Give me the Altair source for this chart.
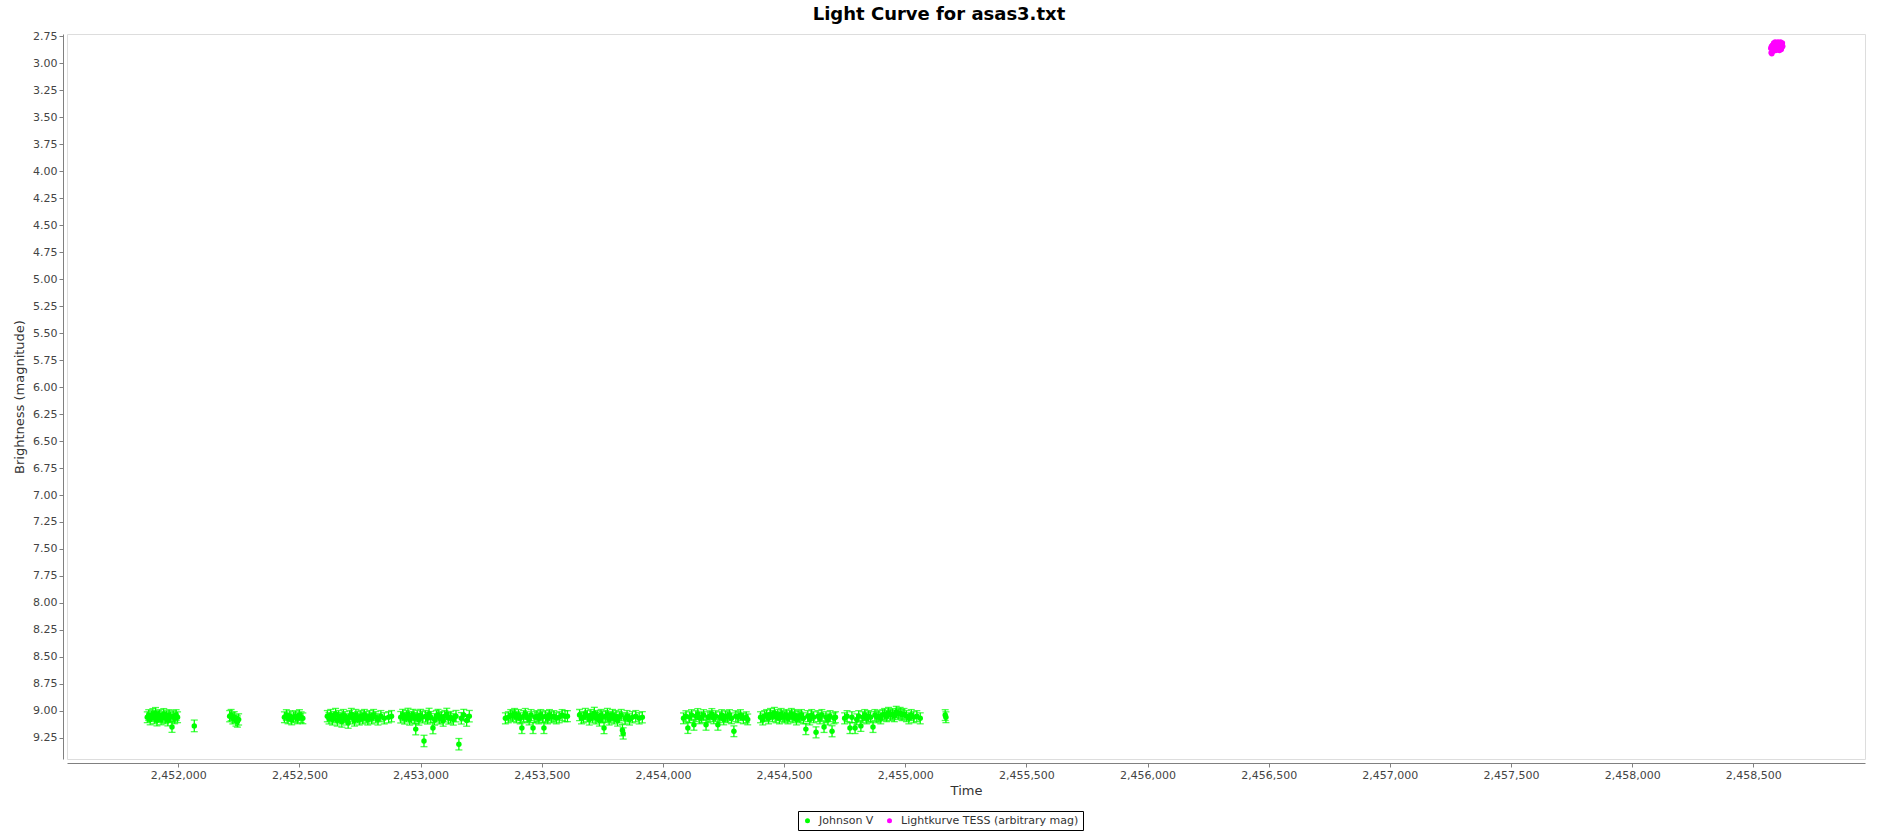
import altair as alt
import pandas as pd

# ---------------- Johnson V (ASAS-3) observations ----------------
jd_s1 = [2451872, 2451878, 2451884, 2451889, 2451895, 2451901, 2451906, 2451912, 2451918, 2451923,
         2451929, 2451934, 2451940, 2451946, 2451951, 2451957, 2451962, 2451968, 2451974, 2451979,
         2451985, 2451991, 2451997]
mag_s1 = [9.06, 9.04, 9.08, 9.05, 9.03, 9.07, 9.02, 9.09, 9.05, 9.04,
          9.08, 9.06, 9.03, 9.07, 9.05, 9.09, 9.04, 9.06, 9.15, 9.05,
          9.07, 9.04, 9.06]

jd_iso1 = [2452066]
mag_iso1 = [9.14]

jd_s2 = [2452212, 2452218, 2452225, 2452231, 2452238, 2452244, 2452249]
mag_s2 = [9.05, 9.04, 9.07, 9.06, 9.09, 9.10, 9.08]

jd_s3 = [2452438, 2452446, 2452453, 2452460, 2452468, 2452476, 2452484, 2452492, 2452500, 2452507, 2452514]
mag_s3 = [9.06, 9.04, 9.07, 9.05, 9.08, 9.06, 9.05, 9.07, 9.04, 9.06, 9.07]

jd_s4 = [2452615, 2452622, 2452629, 2452636, 2452642, 2452649, 2452656, 2452662, 2452668, 2452675,
         2452681, 2452688, 2452694, 2452701, 2452707, 2452714, 2452720, 2452727, 2452733, 2452740,
         2452747, 2452754, 2452761, 2452768, 2452775, 2452782, 2452790, 2452798, 2452806, 2452815,
         2452824, 2452836, 2452850, 2452868, 2452880]
mag_s4 = [9.05, 9.07, 9.04, 9.08, 9.06, 9.03, 9.09, 9.05, 9.07, 9.10,
          9.04, 9.06, 9.08, 9.11, 9.05, 9.03, 9.07, 9.09, 9.04, 9.06,
          9.08, 9.05, 9.07, 9.04, 9.06, 9.08, 9.05, 9.07, 9.04, 9.06,
          9.08, 9.05, 9.07, 9.06, 9.05]

jd_s5 = [2452918, 2452926, 2452934, 2452941, 2452948, 2452955, 2452962, 2452969, 2452976, 2452980,
         2452986, 2452993, 2453000, 2453007, 2453014, 2453021, 2453028, 2453035, 2453042, 2453051,
         2453058, 2453065, 2453072, 2453079, 2453086, 2453093, 2453100, 2453108, 2453116, 2453124,
         2453135, 2453146, 2453158, 2453168, 2453178, 2453190, 2453201]
mag_s5 = [9.06, 9.04, 9.07, 9.05, 9.03, 9.08, 9.06, 9.04, 9.07, 9.17,
          9.05, 9.08, 9.04, 9.06, 9.28, 9.05, 9.07, 9.03, 9.06, 9.16,
          9.08, 9.05, 9.04, 9.07, 9.06, 9.09, 9.05, 9.03, 9.07, 9.06,
          9.08, 9.05, 9.31, 9.07, 9.04, 9.09, 9.05]

jd_s6 = [2453350, 2453362, 2453372, 2453380, 2453388, 2453396, 2453404, 2453411, 2453418, 2453425,
         2453432, 2453440, 2453448, 2453456, 2453464, 2453472, 2453480, 2453488, 2453496, 2453503,
         2453509, 2453516, 2453524, 2453532, 2453540, 2453550, 2453560, 2453572, 2453584, 2453596,
         2453606]
mag_s6 = [9.07, 9.06, 9.04, 9.05, 9.03, 9.06, 9.04, 9.07, 9.16, 9.05,
          9.03, 9.06, 9.08, 9.04, 9.16, 9.06, 9.05, 9.07, 9.04, 9.06,
          9.16, 9.05, 9.07, 9.04, 9.06, 9.05, 9.07, 9.06, 9.04, 9.05,
          9.05]

jd_s7 = [2453656, 2453664, 2453672, 2453680, 2453688, 2453696, 2453703, 2453710, 2453717, 2453724,
         2453731, 2453738, 2453745, 2453751, 2453757, 2453764, 2453771, 2453778, 2453785, 2453792,
         2453799, 2453806, 2453813, 2453820, 2453828, 2453833, 2453836, 2453844, 2453852, 2453862,
         2453874, 2453888, 2453902, 2453915]
mag_s7 = [9.04, 9.07, 9.06, 9.03, 9.05, 9.08, 9.04, 9.06, 9.02, 9.07,
          9.05, 9.09, 9.04, 9.06, 9.16, 9.05, 9.03, 9.08, 9.06, 9.04,
          9.07, 9.05, 9.09, 9.06, 9.04, 9.18, 9.21, 9.07, 9.05, 9.08,
          9.06, 9.05, 9.07, 9.06]

jd_s8 = [2454085, 2454095, 2454103, 2454110, 2454118, 2454128, 2454136, 2454144, 2454152, 2454160,
         2454168, 2454178, 2454186, 2454194, 2454202, 2454210, 2454218, 2454227, 2454235, 2454243,
         2454251, 2454259, 2454267, 2454275, 2454283, 2454293, 2454301, 2454310, 2454320, 2454332,
         2454344, 2454350]
mag_s8 = [9.07, 9.05, 9.16, 9.06, 9.04, 9.13, 9.05, 9.03, 9.07, 9.06,
          9.04, 9.13, 9.06, 9.05, 9.03, 9.07, 9.05, 9.13, 9.06, 9.04,
          9.08, 9.05, 9.06, 9.04, 9.07, 9.19, 9.05, 9.06, 9.04, 9.07,
          9.06, 9.08]

jd_s9 = [2454403, 2454412, 2454420, 2454428, 2454436, 2454444, 2454452, 2454460, 2454467, 2454474,
         2454481, 2454488, 2454495, 2454502, 2454509, 2454516, 2454523, 2454530, 2454537, 2454544,
         2454551, 2454558, 2454565, 2454572, 2454580, 2454590, 2454598, 2454606, 2454614, 2454622,
         2454632, 2454640, 2454648, 2454656, 2454665, 2454673, 2454681, 2454690, 2454698, 2454706,
         2454712]
mag_s9 = [9.06, 9.08, 9.05, 9.04, 9.07, 9.03, 9.05, 9.02, 9.06, 9.04,
          9.07, 9.03, 9.05, 9.06, 9.04, 9.07, 9.05, 9.03, 9.06, 9.04,
          9.08, 9.05, 9.06, 9.04, 9.07, 9.17, 9.05, 9.08, 9.04, 9.06,
          9.20, 9.05, 9.07, 9.04, 9.15, 9.06, 9.08, 9.05, 9.19, 9.07,
          9.06]

jd_s10 = [2454750, 2454760, 2454772, 2454780, 2454793, 2454800, 2454808, 2454817, 2454825, 2454833,
          2454841, 2454849, 2454857, 2454867, 2454875, 2454883, 2454891, 2454899, 2454907, 2454915,
          2454923, 2454931, 2454939, 2454947, 2454955, 2454963, 2454971, 2454979, 2454987, 2454995,
          2455005, 2455015, 2455025, 2455035, 2455048, 2455062]
mag_s10 = [9.07, 9.05, 9.16, 9.06, 9.16, 9.08, 9.05, 9.14, 9.06, 9.04,
           9.07, 9.05, 9.06, 9.15, 9.04, 9.06, 9.05, 9.07, 9.04, 9.03,
           9.05, 9.02, 9.04, 9.03, 9.05, 9.01, 9.03, 9.02, 9.04, 9.03,
           9.05, 9.07, 9.04, 9.06, 9.05, 9.07]

jd_iso2 = [2455165, 2455168]
mag_iso2 = [9.04, 9.06]

# typical photometric uncertainty of each observing season (mag)
err_season = [0.050, 0.054, 0.052, 0.050, 0.052, 0.053, 0.051, 0.052, 0.050, 0.051, 0.051, 0.050]

# ---------------- Lightkurve TESS (arbitrary mag) ----------------
jd_t = [2458572.0, 2458573.5, 2458575.0, 2458576.5, 2458578.0, 2458579.5, 2458581.0, 2458582.5,
        2458584.0, 2458585.5, 2458587.0, 2458588.5, 2458590.0, 2458591.5, 2458593.0, 2458594.5,
        2458596.0, 2458597.5, 2458599.0, 2458600.5, 2458602.0, 2458603.5, 2458605.0, 2458606.5,
        2458608.0, 2458609.5, 2458611.0, 2458612.5, 2458614.0, 2458615.5, 2458617.0, 2458618.5,
        2458620.0, 2458621.5]
mag_t = [2.86, 2.90, 2.84, 2.91, 2.87, 2.83, 2.89, 2.85, 2.81, 2.87, 2.83, 2.86, 2.80, 2.84,
         2.88, 2.82, 2.85, 2.81, 2.87, 2.83, 2.80, 2.86, 2.82, 2.84, 2.88, 2.81, 2.85, 2.80,
         2.83, 2.87, 2.82, 2.85, 2.81, 2.84]

series_names = ["Johnson V", "Lightkurve TESS (arbitrary mag)"]
series_colors = ["#00ff00", "#ff00ff"]
x_ticks = [2452000, 2452500, 2453000, 2453500, 2454000, 2454500, 2455000, 2455500,
           2456000, 2456500, 2457000, 2457500, 2458000, 2458500]
y_ticks = [2.75, 3.00, 3.25, 3.50, 3.75, 4.00, 4.25, 4.50, 4.75, 5.00, 5.25, 5.50, 5.75, 6.00,
           6.25, 6.50, 6.75, 7.00, 7.25, 7.50, 7.75, 8.00, 8.25, 8.50, 8.75, 9.00, 9.25]
x_domain = [2451540.7, 2458961.0]
y_domain = [2.727, 9.447]

# ---------------- build table ----------------
seasons = [(jd_s1, mag_s1), (jd_iso1, mag_iso1), (jd_s2, mag_s2), (jd_s3, mag_s3),
           (jd_s4, mag_s4), (jd_s5, mag_s5), (jd_s6, mag_s6), (jd_s7, mag_s7),
           (jd_s8, mag_s8), (jd_s9, mag_s9), (jd_s10, mag_s10), (jd_iso2, mag_iso2)]
rows = []
for (jds, mags), e in zip(seasons, err_season):
    assert len(jds) == len(mags)
    for j, m in zip(jds, mags):
        rows.append({"jd": j, "mag": m, "lo": m - e, "hi": m + e, "series": series_names[0]})
assert len(jd_t) == len(mag_t)
for j, m in zip(jd_t, mag_t):
    rows.append({"jd": j, "mag": m, "lo": m, "hi": m, "series": series_names[1]})
df = pd.DataFrame(rows)

FONT = "DejaVu Sans"
xscale = alt.Scale(domain=x_domain, nice=False, zero=False)
yscale = alt.Scale(domain=y_domain, nice=False, zero=False, reverse=True)
cscale = alt.Scale(domain=series_names, range=series_colors)

xaxis = alt.Axis(values=x_ticks, format=",.0f", title="Time", grid=False, offset=4,
                 tickSize=4, tickColor="#808080", domainColor="#808080", labelOverlap=False,
                 labelFont=FONT, labelFontSize=11, labelColor="#444444", labelPadding=2,
                 titleFont=FONT, titleFontSize=13, titleFontWeight="normal", titleColor="#333333",
                 titlePadding=4)
yaxis = alt.Axis(values=y_ticks, format=".2f", title="Brightness (magnitude)", grid=False, offset=4,
                 tickSize=4, tickColor="#808080", domainColor="#808080", labelOverlap=False,
                 labelFont=FONT, labelFontSize=11, labelColor="#444444", labelPadding=2,
                 titleFont=FONT, titleFontSize=13, titleFontWeight="normal", titleColor="#333333",
                 titlePadding=6)

base = alt.Chart(df)
errdf = base.transform_filter(alt.datum.series == series_names[0])
err_color = alt.value(series_colors[0])

rules = errdf.mark_rule(strokeWidth=1.3).encode(
    x=alt.X("jd:Q", scale=xscale, axis=xaxis),
    y=alt.Y("lo:Q", scale=yscale, axis=yaxis),
    y2="hi:Q",
    color=err_color,
)
cap_lo = errdf.mark_tick(orient="horizontal", size=7, thickness=1.3).encode(
    x=alt.X("jd:Q", scale=xscale, axis=xaxis),
    y=alt.Y("lo:Q", scale=yscale, axis=yaxis), color=err_color)
cap_hi = errdf.mark_tick(orient="horizontal", size=7, thickness=1.3).encode(
    x=alt.X("jd:Q", scale=xscale, axis=xaxis),
    y=alt.Y("hi:Q", scale=yscale, axis=yaxis), color=err_color)
points = base.mark_circle(size=30, opacity=1).encode(
    x=alt.X("jd:Q", scale=xscale, axis=xaxis),
    y=alt.Y("mag:Q", scale=yscale, axis=yaxis),
    color=alt.Color("series:N", scale=cscale, legend=alt.Legend(
        title=None, orient="none", legendX=731, legendY=777, direction="horizontal",
        strokeColor="black", fillColor="white", padding=4, cornerRadius=0,
        labelFont=FONT, labelFontSize=11, labelColor="#333333", labelLimit=0,
        symbolType="circle", symbolSize=25, columnPadding=10, labelOffset=6)),
)

chart = alt.layer(rules, cap_lo, cap_hi, points).properties(
    width=1798, height=725,
    autosize=alt.AutoSizeParams(type="none"),
    padding={"left": 67, "top": 34, "right": 12, "bottom": 74},
    title=alt.TitleParams("Light Curve for asas3.txt", font=FONT, fontSize=18, fontWeight="bold",
                          color="black", anchor="middle", dx=-27, offset=6),
).configure_view(stroke="#808080", strokeWidth=1).configure_axis(
    labelOverlap=False
).configure(background="white")

chart.save("out.html", embed_options={"renderer": "svg", "actions": False})
